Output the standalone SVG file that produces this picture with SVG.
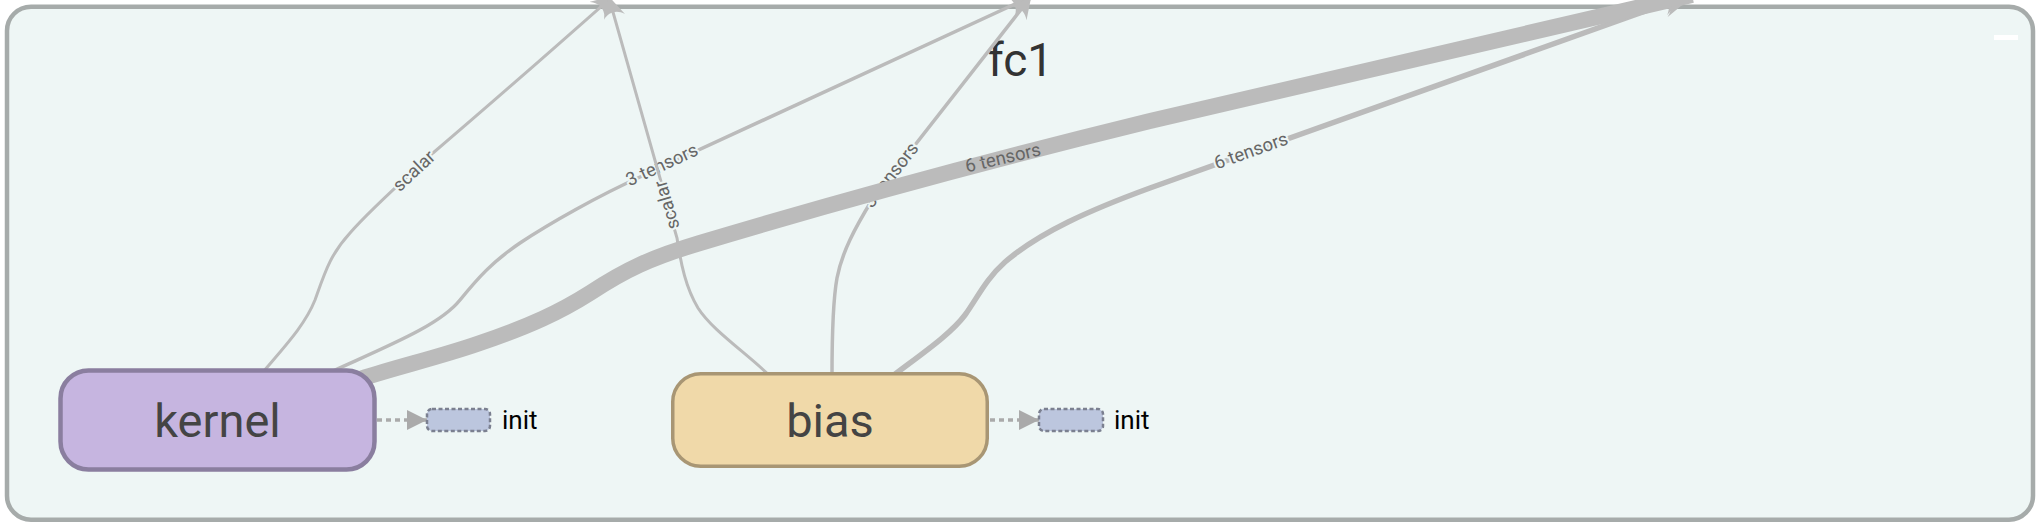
<svg xmlns="http://www.w3.org/2000/svg" width="2038" height="528" viewBox="0 0 2038 528">
<style>
.edge{fill:none;stroke:#bbbbbb;stroke-linecap:butt}
.lbl{font-family:Roboto,"Liberation Sans",sans-serif;font-size:18.5px;fill:#666666;text-anchor:middle;dominant-baseline:central}
.halo{paint-order:stroke;stroke:#eef6f5;stroke-width:4px;stroke-linejoin:round}
.nlabel{font-family:Roboto,"Liberation Sans",sans-serif;font-size:47px;fill:#444444;text-anchor:middle}
.ilabel{font-family:Roboto,"Liberation Sans",sans-serif;font-size:26px;fill:#000000}
.ctrl{fill:none;stroke:#aaaaaa;stroke-width:3.5;stroke-dasharray:5 4}
.stub{fill:#bcc6de;stroke:#7b8090;stroke-width:2.5;stroke-dasharray:4 2.5}
</style>
<defs>
<marker id="arrow" viewBox="0 0 10 10" refX="9" refY="5" markerUnits="userSpaceOnUse" markerWidth="22" markerHeight="22" orient="auto">
<path d="M0,0 L10,5 L0,10 C3,7 3,3 0,0 Z" fill="#bbbbbb"/>
</marker>
<marker id="arrowL" viewBox="0 0 10 10" refX="9" refY="5" markerUnits="userSpaceOnUse" markerWidth="32" markerHeight="32" orient="auto">
<path d="M0,0 L10,5 L0,10 C3,7 3,3 0,0 Z" fill="#bbbbbb"/>
</marker>
<marker id="ctrlArrow" viewBox="0 0 10 10" refX="10" refY="5" markerUnits="userSpaceOnUse" markerWidth="20" markerHeight="20" orient="auto">
<path d="M0,0 L10,5 L0,10 Z" fill="#aaaaaa"/>
</marker>
</defs>

<g id="cluster-fc1">
<rect x="7" y="6.7" width="2026" height="513" rx="24" ry="24" fill="#eef6f5" stroke="#a6abaa" stroke-width="4.5"/>
<text x="1020.5" y="76" font-family="Roboto, 'Liberation Sans', sans-serif" font-size="46" fill="#333333" text-anchor="middle">fc1</text>
<rect x="1994" y="35" width="24" height="5" fill="#ffffff"/>
</g>

<g id="connectors">
<path id="e1" class="edge" stroke-width="3" marker-end="url(#arrow)" d="M263,372 C285,346 305,325 315,300 C325,272 330,255 350,233 C370,210 395,188 433,153 C480,113 560,43 612,-3"/>
<text class="lbl halo" transform="translate(414,171) rotate(-43)">scalar</text>
<path id="e2" class="edge" stroke-width="3.5" marker-end="url(#arrow)" d="M333,371 C390,345 440,325 460,300 C478,278 492,262 520,243 C550,223 600,195 640,177 L1028,-2"/>
<text class="lbl halo" transform="translate(662,165) rotate(-24.7)">3 tensors</text>
<path id="e5" class="edge" stroke-width="3.5" marker-end="url(#arrow)" d="M832,376 C832,330 833,300 837,278 C842,252 855,228 872,200 L1030,-2"/>
<text class="lbl halo" transform="translate(891,175) rotate(-52)">3 tensors</text>
<path id="e6" class="edge" stroke-width="5.5" marker-end="url(#arrow)" d="M890,378 C920,355 950,335 965,315 C978,297 985,280 1005,262 C1040,232 1090,210 1150,188 L1682,-2"/>
<text class="lbl halo" transform="translate(1251,151) rotate(-19.5)">6 tensors</text>
<path id="e4" class="edge" stroke-width="3" marker-end="url(#arrow)" d="M770,376 C745,352 712,330 698,308 C686,288 681,265 677,238 L609,-2"/>
<text class="lbl halo" transform="translate(667,205) rotate(-106.5)">scalar</text>
<path id="e3" class="edge" stroke-width="16" marker-end="url(#arrowL)" d="M360,379 C400,366 440,357 480,343 C530,326 560,312 590,293 C625,270 650,258 700,243 C800,213 950,170 1150,121 L1692,-5"/>
<text class="lbl" transform="translate(1003,158) rotate(-13)">6 tensors</text>
<path class="ctrl" marker-end="url(#ctrlArrow)" d="M377,420 L427,420"/>
<path class="ctrl" marker-end="url(#ctrlArrow)" d="M990,420 L1039,420"/>
</g>

<g id="node-kernel">
<rect x="60.5" y="370.5" width="314" height="99" rx="28" ry="28" fill="#c6b5e0" stroke="#8a7e9f" stroke-width="4.5"/>
<text class="nlabel" x="217.5" y="437">kernel</text>
</g>

<g id="node-bias">
<rect x="672.75" y="373.75" width="314.5" height="92.5" rx="28" ry="28" fill="#f0d9a9" stroke="#a89674" stroke-width="3.5"/>
<text class="nlabel" x="830" y="437">bias</text>
</g>

<g id="node-kernel-init">
<rect class="stub" x="427" y="409" width="63" height="22" rx="5" ry="5"/>
<text class="ilabel" x="502" y="429">init</text>
</g>

<g id="node-bias-init">
<rect class="stub" x="1039" y="409" width="64" height="22" rx="5" ry="5"/>
<text class="ilabel" x="1114" y="429">init</text>
</g>
</svg>
